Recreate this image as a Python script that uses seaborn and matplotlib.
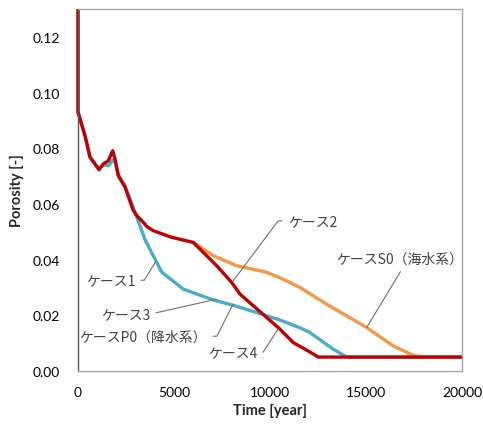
import numpy as np
import pandas as pd
import matplotlib
matplotlib.use("Agg")
import matplotlib.pyplot as plt
import seaborn as sns

# ---- data ----
teal_x = [0, 0, 365, 625, 1094, 1320, 1580, 1806, 1930, 2100, 2450, 2970, 3500, 4100, 4360,
          5485, 7050, 8090, 9480, 10520, 11560, 12083, 13300, 14000, 20000]
teal_y = [0.13, 0.093, 0.0845, 0.0768, 0.0725, 0.074, 0.0737, 0.0757, 0.075, 0.0705, 0.0665,
          0.057, 0.047, 0.039, 0.0355, 0.0294, 0.0255, 0.0236, 0.0206, 0.0183, 0.0155, 0.0138,
          0.0078, 0.005, 0.005]

orange_x = [6000, 7050, 8265, 9480, 9830, 10520, 11560, 12950, 15035, 16420, 17465, 17990, 20000]
orange_y = [0.0462, 0.0414, 0.0378, 0.036, 0.0354, 0.0335, 0.030, 0.024, 0.0156, 0.009, 0.0056,
            0.005, 0.005]

red_x = [0, 0, 365, 625, 1094, 1320, 1580, 1806, 1930, 2100, 2450, 2880, 3100, 3320, 3600,
         3920, 4400, 4880, 6000, 7225, 8005, 8440, 9480, 10430, 11215, 12083, 12520, 20000]
red_y = [0.13, 0.093, 0.0845, 0.0768, 0.0723, 0.0744, 0.0755, 0.0791, 0.0761, 0.0701, 0.066,
         0.0576, 0.0555, 0.054, 0.0518, 0.0504, 0.0492, 0.048, 0.0462, 0.0378, 0.0318, 0.0276,
         0.0213, 0.0156, 0.0102, 0.0068, 0.005, 0.005]

series_names = ["ケース1・3・P0", "ケースS0", "ケース2・4"]
series_colors = ["#4bacc6", "#f79646", "#c00000"]

x_ticks = [0, 5000, 10000, 15000, 20000]
y_ticks = [0.00, 0.02, 0.04, 0.06, 0.08, 0.10, 0.12]

labels = ["ケース1", "ケース3", "ケースP0（降水系）", "ケース2", "ケース4", "ケースS0（海水系）"]
label_xy = [(4063, 0.0395), (7224, 0.0258), (8073, 0.0240), (8073, 0.0323), (10417, 0.0150), (15035, 0.0156)]
label_text_xy = [(2969, 0.0326), (3750, 0.0204), (6719, 0.0125), (10938, 0.0539), (9323, 0.0067), (16771, 0.0402)]

# ---- dataframe ----
frames = []
for name, xs, ys in zip(series_names, [teal_x, orange_x, red_x], [teal_y, orange_y, red_y]):
    frames.append(pd.DataFrame({"time": xs, "porosity": ys, "case": name}))
df = pd.concat(frames, ignore_index=True)

sns.set_theme(style="white")
plt.rcParams["font.family"] = ["Lato", "Noto Sans CJK JP", "DejaVu Sans"]
plt.rcParams["lines.solid_capstyle"] = "butt"
plt.rcParams["lines.solid_joinstyle"] = "round"

fig = plt.figure(figsize=(4.83, 4.31), dpi=100)
ax = fig.add_axes([78 / 483, 1 - 372 / 431, 384 / 483, 362 / 431])

sns.lineplot(data=df, x="time", y="porosity", hue="case", hue_order=series_names,
             palette=dict(zip(series_names, series_colors)), sort=False,
             estimator=None, linewidth=2.4, legend=False, ax=ax)
for ln in ax.lines:
    ln.set_clip_on(False)

ax.set_xlim(0, 20000)
ax.set_ylim(0, 0.13)
ax.set_xticks(x_ticks)
ax.set_yticks(y_ticks)
ax.set_xticklabels([str(t) for t in x_ticks])
ax.set_yticklabels([f"{t:.2f}" for t in y_ticks])
ax.tick_params(axis="both", direction="in", length=4, width=0.8, colors="#8c8c8c",
               labelcolor="#000000", labelsize=10)
ax.tick_params(axis="y", pad=13)
ax.tick_params(axis="x", pad=11)

for side in ["top", "right", "bottom"]:
    ax.spines[side].set_color("#a6a6a6")
    ax.spines[side].set_linewidth(1.0)
ax.spines["left"].set_color("#595959")
ax.spines["left"].set_linewidth(1.0)

ax.set_xlabel("Time [year]", fontsize=10.5, fontweight="bold", labelpad=3)
ax.set_ylabel("Porosity [-]", fontsize=10.5, fontweight="bold", labelpad=6)

# ---- annotations ----
txt_kw = dict(fontsize=10, color="#404040", family=["Noto Sans CJK JP", "DejaVu Sans"],
              va="center")
line_col = "#6e6e6e"
specs = [
    (0, "right", (1, 0.5), "angle,angleA=0,angleB=58.6,rad=0"),
    (1, "right", (1, 0.5), "arc3,rad=0"),
    (2, "right", (1, 0.5), "angle,angleA=0,angleB=63.4,rad=0"),
    (3, "left", (0, 0.5), "angle,angleA=0,angleB=53.1,rad=0"),
    (4, "right", (1, 0.5), "angle,angleA=0,angleB=56.9,rad=0"),
    (5, "center", (0.53, 0.0), "arc3,rad=0"),
]
for i, ha, rp, cs in specs:
    ax.annotate(labels[i], xy=label_xy[i], xytext=label_text_xy[i], ha=ha,
                arrowprops=dict(arrowstyle="-", color=line_col, lw=0.8, relpos=rp,
                                connectionstyle=cs, shrinkA=2, shrinkB=0),
                **txt_kw)

fig.savefig("out.png", dpi=100)
